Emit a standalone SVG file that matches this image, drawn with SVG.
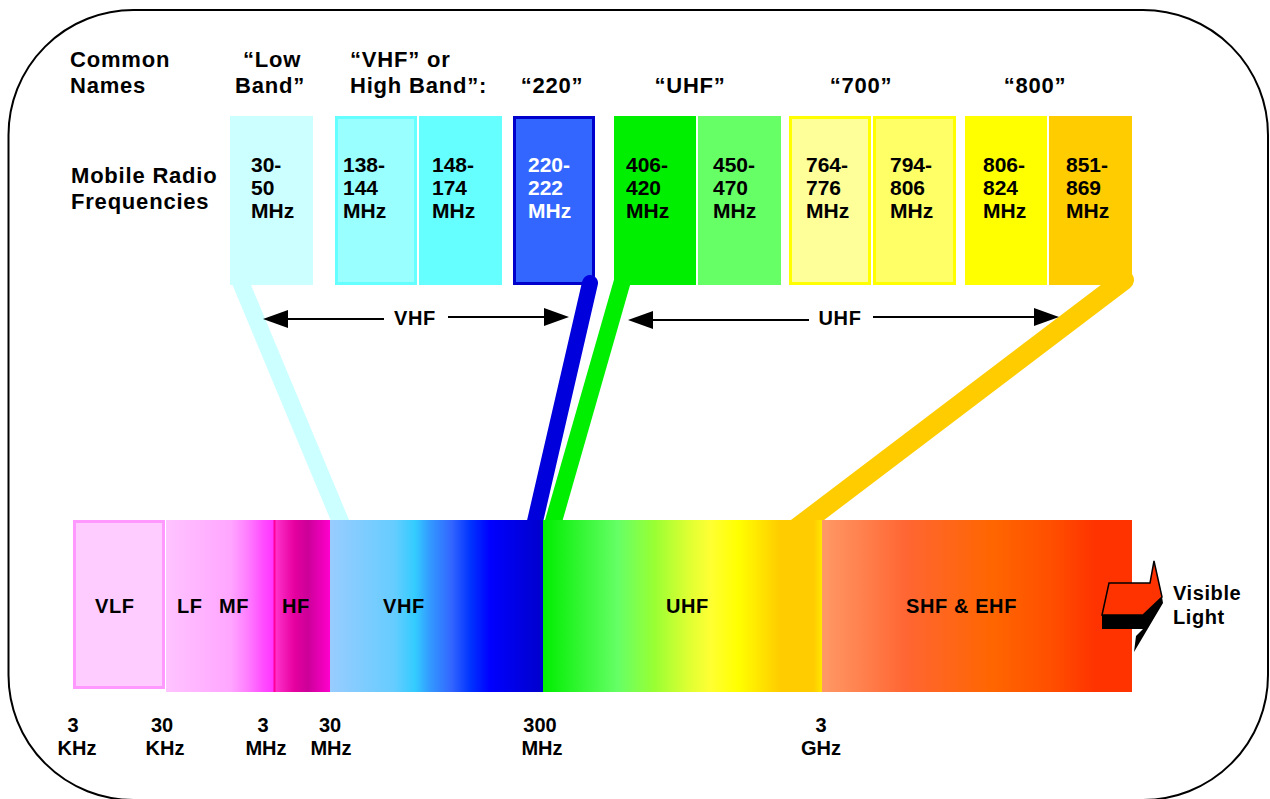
<svg xmlns="http://www.w3.org/2000/svg" width="1270" height="799" viewBox="0 0 1270 799">
  <style>
    text { font-family: "Liberation Sans", Arial, sans-serif; font-weight: bold; fill: #000; }
    .hdr { font-size: 22px; letter-spacing: 0.8px; }
    .freq { font-size: 21px; }
    .band { font-size: 20px; letter-spacing: 0.6px; }
    .axis { font-size: 20px; text-anchor: middle; }
    .mid { text-anchor: middle; }
    .arr { stroke: #000; stroke-width: 2; fill: none; }
    .head { fill: #000; }
  </style>
  <defs>
    <linearGradient id="gLfMf" gradientUnits="userSpaceOnUse" x1="165" y1="0" x2="274" y2="0">
      <stop offset="0" stop-color="#FFC4FF"/>
      <stop offset="0.6" stop-color="#FFA6FF"/>
      <stop offset="0.75" stop-color="#FF80FF"/>
      <stop offset="0.9" stop-color="#FF4DFF"/>
      <stop offset="1" stop-color="#FF33FF"/>
    </linearGradient>
    <linearGradient id="gHf" gradientUnits="userSpaceOnUse" x1="275" y1="0" x2="330" y2="0">
      <stop offset="0" stop-color="#FF33CC"/>
      <stop offset="0.35" stop-color="#E6009F"/>
      <stop offset="0.6" stop-color="#CC0099"/>
      <stop offset="1" stop-color="#FF00CC"/>
    </linearGradient>
    <linearGradient id="gVhf" gradientUnits="userSpaceOnUse" x1="330" y1="0" x2="543" y2="0">
      <stop offset="0" stop-color="#99CCFF"/>
      <stop offset="0.3" stop-color="#66CCFF"/>
      <stop offset="0.4" stop-color="#33CCFF"/>
      <stop offset="0.47" stop-color="#3399FF"/>
      <stop offset="0.57" stop-color="#3366FF"/>
      <stop offset="0.66" stop-color="#0033FF"/>
      <stop offset="0.75" stop-color="#0000FF"/>
      <stop offset="1" stop-color="#0000CC"/>
    </linearGradient>
    <linearGradient id="gUhf" gradientUnits="userSpaceOnUse" x1="543" y1="0" x2="822" y2="0">
      <stop offset="0" stop-color="#00EE00"/>
      <stop offset="0.27" stop-color="#66FF66"/>
      <stop offset="0.4" stop-color="#99FF33"/>
      <stop offset="0.52" stop-color="#DDFF33"/>
      <stop offset="0.6" stop-color="#FFFF33"/>
      <stop offset="0.7" stop-color="#FFFF00"/>
      <stop offset="0.85" stop-color="#FFCC00"/>
      <stop offset="0.97" stop-color="#FFCC00"/>
      <stop offset="1" stop-color="#FFE600"/>
    </linearGradient>
    <linearGradient id="gShf" gradientUnits="userSpaceOnUse" x1="822" y1="0" x2="1132" y2="0">
      <stop offset="0" stop-color="#FF9966"/>
      <stop offset="0.27" stop-color="#FF6633"/>
      <stop offset="0.55" stop-color="#FF6600"/>
      <stop offset="0.75" stop-color="#FF4D00"/>
      <stop offset="0.88" stop-color="#FF3300"/>
      <stop offset="1" stop-color="#FF3300"/>
    </linearGradient>
  </defs>

  <!-- outer frame -->
  <rect x="8.5" y="10" width="1259.5" height="790" rx="125" ry="125" fill="#FFFFFF" stroke="#000" stroke-width="2"/>

  <!-- header labels -->
  <g id="labels">
    <text class="hdr" x="70" y="67">Common</text>
    <text class="hdr" x="70" y="93">Names</text>
    <text class="hdr" x="243" y="67">“Low</text>
    <text class="hdr" x="235" y="93">Band”</text>
    <text class="hdr" x="350" y="67">“VHF” or</text>
    <text class="hdr" x="350" y="93">High Band”:</text>
    <text class="hdr mid" x="552" y="93">“220”</text>
    <text class="hdr mid" x="690" y="93">“UHF”</text>
    <text class="hdr mid" x="861" y="93">“700”</text>
    <text class="hdr mid" x="1035" y="93">“800”</text>
    <text class="hdr" x="71" y="183">Mobile Radio</text>
    <text class="hdr" x="71" y="209">Frequencies</text>
  </g>

  <!-- mobile radio frequency blocks -->
  <g id="f30">
    <rect x="230" y="116" width="83" height="169" fill="#CCFFFF"/>
    <text class="freq" x="251" y="172">30-</text>
    <text class="freq" x="251" y="195">50</text>
    <text class="freq" x="251" y="218">MHz</text>
  </g>
  <g id="f138">
    <rect x="336.5" y="117.5" width="79" height="166" fill="#99FFFF" stroke="#66FFFF" stroke-width="3"/>
    <text class="freq" x="343" y="172">138-</text>
    <text class="freq" x="343" y="195">144</text>
    <text class="freq" x="343" y="218">MHz</text>
  </g>
  <g id="f148">
    <rect x="419" y="116" width="83" height="169" fill="#66FFFF"/>
    <text class="freq" x="432" y="172">148-</text>
    <text class="freq" x="432" y="195">174</text>
    <text class="freq" x="432" y="218">MHz</text>
  </g>
  <g id="f220">
    <rect x="514.5" y="117.5" width="79" height="166" fill="#3366FF" stroke="#0000CC" stroke-width="3"/>
    <text class="freq" x="528" y="172" fill="#FFFFFF" style="fill:#FFFFFF">220-</text>
    <text class="freq" x="528" y="195" style="fill:#FFFFFF">222</text>
    <text class="freq" x="528" y="218" style="fill:#FFFFFF">MHz</text>
  </g>
  <g id="f406">
    <rect x="614" y="116" width="82" height="169" fill="#00EE00"/>
    <text class="freq" x="626" y="172">406-</text>
    <text class="freq" x="626" y="195">420</text>
    <text class="freq" x="626" y="218">MHz</text>
  </g>
  <g id="f450">
    <rect x="698" y="116" width="83" height="169" fill="#66FF66"/>
    <text class="freq" x="713" y="172">450-</text>
    <text class="freq" x="713" y="195">470</text>
    <text class="freq" x="713" y="218">MHz</text>
  </g>
  <g id="f764">
    <rect x="790.5" y="117.5" width="79" height="166" fill="#FFFF99" stroke="#FFFF00" stroke-width="3"/>
    <text class="freq" x="806" y="172">764-</text>
    <text class="freq" x="806" y="195">776</text>
    <text class="freq" x="806" y="218">MHz</text>
  </g>
  <g id="f794">
    <rect x="874.5" y="117.5" width="80" height="166" fill="#FFFF66" stroke="#FFFF00" stroke-width="3"/>
    <text class="freq" x="890" y="172">794-</text>
    <text class="freq" x="890" y="195">806</text>
    <text class="freq" x="890" y="218">MHz</text>
  </g>
  <g id="f806">
    <rect x="965" y="116" width="82" height="169" fill="#FFFF00"/>
    <text class="freq" x="983" y="172">806-</text>
    <text class="freq" x="983" y="195">824</text>
    <text class="freq" x="983" y="218">MHz</text>
  </g>
  <g id="f851">
    <rect x="1049" y="116" width="83" height="169" fill="#FFCC00"/>
    <text class="freq" x="1066" y="172">851-</text>
    <text class="freq" x="1066" y="195">869</text>
    <text class="freq" x="1066" y="218">MHz</text>
  </g>

  <!-- connectors: bands tying each block group to the spectrum, and range arrows -->
  <g id="connectors">
    <line x1="238" y1="276" x2="344" y2="530" stroke="#CCFFFF" stroke-width="17"/>
    <line x1="590" y1="283" x2="533" y2="530" stroke="#0000DD" stroke-width="16" stroke-linecap="round"/>
    <line x1="625" y1="272" x2="551" y2="530" stroke="#00EE00" stroke-width="17"/>
    <line x1="1124" y1="280" x2="797" y2="528" stroke="#FFCC00" stroke-width="20" stroke-linecap="round"/>

    <line class="arr" x1="280" y1="319" x2="384" y2="319"/>
    <line class="arr" x1="448" y1="317" x2="552" y2="317"/>
    <polygon class="head" points="263,319 288,310 288,328"/>
    <polygon class="head" points="569,317 544,308 544,326"/>
    <text class="band mid" x="415" y="325">VHF</text>

    <line class="arr" x1="645" y1="320" x2="809" y2="320"/>
    <line class="arr" x1="873" y1="317" x2="1042" y2="317"/>
    <polygon class="head" points="628,320 653,311 653,329"/>
    <polygon class="head" points="1059,317 1034,308 1034,326"/>
    <text class="band mid" x="840" y="325">UHF</text>
  </g>

  <!-- spectrum bar -->
  <g id="vlf">
    <rect x="74.5" y="521.5" width="89" height="166" fill="#FFCCFF" stroke="#FF99FF" stroke-width="3"/>
    <text class="band" x="95" y="613">VLF</text>
  </g>
  <g id="lfmf">
    <rect x="166" y="520" width="108" height="172" fill="url(#gLfMf)"/>
    <text class="band" x="177" y="613">LF</text>
    <text class="band" x="219" y="613">MF</text>
  </g>
  <g id="hf">
    <rect x="274" y="520" width="56" height="172" fill="url(#gHf)"/>
    <line x1="274.5" y1="520" x2="274.5" y2="692" stroke="#FF0099" stroke-width="2"/>
    <text class="band" x="282" y="613">HF</text>
  </g>
  <g id="vhf">
    <rect x="330" y="520" width="213" height="172" fill="url(#gVhf)"/>
    <text class="band" x="383" y="613">VHF</text>
  </g>
  <g id="uhf">
    <rect x="543" y="520" width="279" height="172" fill="url(#gUhf)"/>
    <text class="band" x="666" y="613">UHF</text>
  </g>
  <g id="shf">
    <rect x="822" y="520" width="310" height="172" fill="url(#gShf)"/>
    <text class="band" x="906" y="613">SHF &amp; EHF</text>
  </g>

  <!-- arrow towards visible light -->
  <g id="visible">
    <polygon points="1102,615 1143,615 1162,597 1163,603 1134,652 1136,636 1143,629 1102,629" fill="#000"/>
    <polygon points="1109,583 1150,583 1154,561 1162,597 1143,615 1102,615" fill="#FF3300" stroke="#000" stroke-width="1.5" stroke-linejoin="miter"/>
    <text class="band" x="1173" y="600">Visible</text>
    <text class="band" x="1173" y="624">Light</text>
  </g>

  <!-- frequency axis -->
  <g id="axis">
    <text class="axis" x="73" y="732">3</text>
    <text class="axis" x="77" y="755">KHz</text>
    <text class="axis" x="162" y="732">30</text>
    <text class="axis" x="165" y="755">KHz</text>
    <text class="axis" x="263" y="732">3</text>
    <text class="axis" x="266" y="755">MHz</text>
    <text class="axis" x="330" y="732">30</text>
    <text class="axis" x="331" y="755">MHz</text>
    <text class="axis" x="540" y="732">300</text>
    <text class="axis" x="542" y="755">MHz</text>
    <text class="axis" x="821" y="732">3</text>
    <text class="axis" x="821" y="755">GHz</text>
  </g>
</svg>
